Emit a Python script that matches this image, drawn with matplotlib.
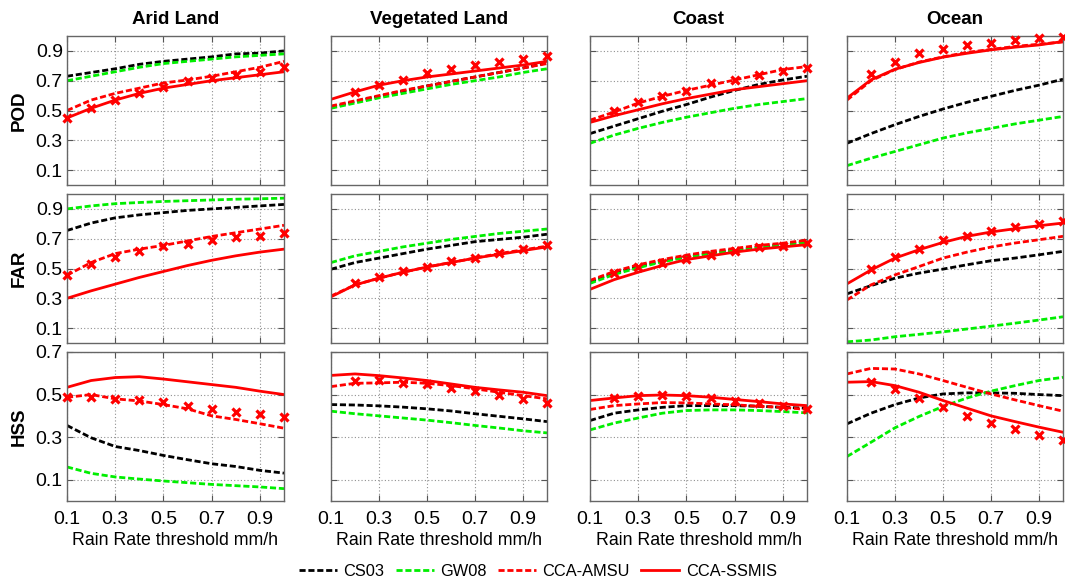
import numpy as np
import matplotlib
matplotlib.use("Agg")
import matplotlib.pyplot as plt

plt.rcParams['font.family'] = ['Liberation Sans', 'DejaVu Sans']

nan = np.nan
thresholds = [0.1, 0.2, 0.3, 0.4, 0.5, 0.6, 0.7, 0.8, 0.9, 1.0]
regions = ["Arid Land", "Vegetated Land", "Coast", "Ocean"]
metrics = ["POD", "FAR", "HSS"]
series_names = ["CS03", "GW08", "CCA-AMSU", "CCA-SSMIS"]

# ---------------- POD ----------------
pod_cs03 = {
    "Arid Land":      [0.73, 0.755, 0.78, 0.81, 0.83, 0.845, 0.86, 0.88, 0.885, 0.90],
    "Vegetated Land": [0.52, 0.56, 0.595, 0.63, 0.665, 0.695, 0.725, 0.755, 0.785, 0.82],
    "Coast":          [0.345, 0.395, 0.445, 0.495, 0.54, 0.59, 0.635, 0.675, 0.705, 0.73],
    "Ocean":          [0.28, 0.345, 0.405, 0.46, 0.51, 0.555, 0.595, 0.635, 0.67, 0.71],
}
pod_gw08 = {
    "Arid Land":      [0.70, 0.73, 0.76, 0.79, 0.815, 0.83, 0.845, 0.86, 0.87, 0.88],
    "Vegetated Land": [0.515, 0.55, 0.585, 0.615, 0.645, 0.675, 0.70, 0.725, 0.755, 0.78],
    "Coast":          [0.28, 0.335, 0.38, 0.42, 0.455, 0.485, 0.515, 0.54, 0.56, 0.58],
    "Ocean":          [0.13, 0.18, 0.225, 0.27, 0.315, 0.35, 0.38, 0.41, 0.435, 0.46],
}
pod_amsu = {
    "Arid Land":      [0.50, 0.57, 0.615, 0.65, 0.685, 0.705, 0.73, 0.76, 0.79, 0.83],
    "Vegetated Land": [0.53, 0.565, 0.60, 0.635, 0.665, 0.695, 0.725, 0.755, 0.785, 0.815],
    "Coast":          [0.435, 0.49, 0.55, 0.595, 0.635, 0.67, 0.705, 0.74, 0.775, 0.795],
    "Ocean":          [0.57, 0.70, 0.775, 0.825, 0.86, 0.89, 0.91, 0.93, 0.945, 0.96],
}
pod_ssmis = {
    "Arid Land":      [0.45, 0.515, 0.57, 0.615, 0.65, 0.675, 0.70, 0.72, 0.74, 0.76],
    "Vegetated Land": [0.575, 0.625, 0.67, 0.70, 0.725, 0.745, 0.765, 0.785, 0.805, 0.83],
    "Coast":          [0.42, 0.465, 0.505, 0.545, 0.58, 0.61, 0.64, 0.66, 0.68, 0.70],
    "Ocean":          [0.583, 0.706, 0.777, 0.822, 0.858, 0.884, 0.907, 0.925, 0.94, 0.963],
}
pod_marks = {
    "Arid Land":      [0.45, 0.515, 0.57, 0.615, 0.66, 0.695, 0.717, 0.74, 0.76, 0.795],
    "Vegetated Land": [nan, 0.627, 0.672, 0.705, 0.75, 0.777, 0.806, 0.824, 0.844, 0.866],
    "Coast":          [nan, 0.50, 0.554, 0.598, 0.634, 0.683, 0.706, 0.739, 0.768, 0.784],
    "Ocean":          [nan, 0.744, 0.828, 0.884, 0.913, 0.94, 0.956, 0.974, 0.985, 0.992],
}

# ---------------- FAR ----------------
far_cs03 = {
    "Arid Land":      [0.755, 0.805, 0.84, 0.86, 0.875, 0.89, 0.90, 0.91, 0.92, 0.93],
    "Vegetated Land": [0.495, 0.54, 0.57, 0.60, 0.63, 0.655, 0.68, 0.695, 0.71, 0.73],
    "Coast":          [0.41, 0.47, 0.515, 0.55, 0.58, 0.605, 0.625, 0.645, 0.66, 0.68],
    "Ocean":          [0.33, 0.385, 0.435, 0.469, 0.496, 0.525, 0.552, 0.57, 0.592, 0.615],
}
far_gw08 = {
    "Arid Land":      [0.90, 0.92, 0.935, 0.943, 0.95, 0.955, 0.96, 0.965, 0.968, 0.972],
    "Vegetated Land": [0.54, 0.585, 0.615, 0.645, 0.67, 0.695, 0.715, 0.735, 0.75, 0.765],
    "Coast":          [0.40, 0.46, 0.505, 0.545, 0.575, 0.60, 0.62, 0.64, 0.66, 0.675],
    "Ocean":          [0.008, 0.02, 0.042, 0.058, 0.075, 0.094, 0.113, 0.133, 0.154, 0.176],
}
far_amsu = {
    "Arid Land":      [0.455, 0.54, 0.60, 0.63, 0.655, 0.685, 0.715, 0.74, 0.765, 0.79],
    "Vegetated Land": [0.315, 0.39, 0.435, 0.475, 0.51, 0.54, 0.57, 0.60, 0.625, 0.65],
    "Coast":          [0.42, 0.48, 0.525, 0.56, 0.59, 0.615, 0.635, 0.655, 0.67, 0.69],
    "Ocean":          [0.289, 0.39, 0.457, 0.513, 0.57, 0.61, 0.644, 0.671, 0.693, 0.716],
}
far_ssmis = {
    "Arid Land":      [0.30, 0.35, 0.395, 0.44, 0.48, 0.52, 0.555, 0.585, 0.61, 0.63],
    "Vegetated Land": [0.31, 0.39, 0.435, 0.475, 0.51, 0.54, 0.57, 0.595, 0.62, 0.645],
    "Coast":          [0.36, 0.425, 0.475, 0.52, 0.56, 0.585, 0.61, 0.63, 0.645, 0.66],
    "Ocean":          [0.397, 0.49, 0.57, 0.626, 0.675, 0.716, 0.745, 0.767, 0.787, 0.805],
}
far_marks = {
    "Arid Land":      [0.457, 0.53, 0.58, 0.615, 0.65, 0.665, 0.69, 0.71, 0.72, 0.74],
    "Vegetated Land": [nan, 0.401, 0.442, 0.48, 0.513, 0.547, 0.57, 0.603, 0.63, 0.66],
    "Coast":          [nan, 0.469, 0.509, 0.536, 0.563, 0.592, 0.62, 0.644, 0.653, 0.671],
    "Ocean":          [nan, 0.50, 0.576, 0.63, 0.689, 0.72, 0.754, 0.776, 0.80, 0.817],
}

# ---------------- HSS ----------------
hss_cs03 = {
    "Arid Land":      [0.355, 0.297, 0.256, 0.237, 0.214, 0.194, 0.175, 0.162, 0.144, 0.131],
    "Vegetated Land": [0.453, 0.451, 0.447, 0.441, 0.433, 0.423, 0.41, 0.398, 0.386, 0.373],
    "Coast":          [0.378, 0.4125, 0.428, 0.44, 0.448, 0.448, 0.448, 0.445, 0.44, 0.436],
    "Ocean":          [0.3625, 0.4125, 0.453, 0.484, 0.503, 0.508, 0.508, 0.506, 0.50, 0.495],
}
hss_gw08 = {
    "Arid Land":      [0.16, 0.13, 0.113, 0.103, 0.094, 0.086, 0.078, 0.072, 0.066, 0.058],
    "Vegetated Land": [0.422, 0.41, 0.40, 0.39, 0.38, 0.368, 0.355, 0.343, 0.33, 0.32],
    "Coast":          [0.334, 0.366, 0.39, 0.4125, 0.425, 0.428, 0.428, 0.425, 0.42, 0.414],
    "Ocean":          [0.209, 0.276, 0.344, 0.397, 0.444, 0.484, 0.516, 0.542, 0.566, 0.581],
}
hss_amsu = {
    "Arid Land":      [0.487, 0.50, 0.48, 0.47, 0.453, 0.433, 0.40, 0.383, 0.363, 0.342],
    "Vegetated Land": [0.5375, 0.553, 0.555, 0.558, 0.553, 0.542, 0.527, 0.511, 0.495, 0.48],
    "Coast":          [0.43, 0.448, 0.456, 0.4625, 0.461, 0.456, 0.452, 0.445, 0.44, 0.43],
    "Ocean":          [0.597, 0.623, 0.62, 0.597, 0.566, 0.534, 0.503, 0.475, 0.448, 0.422],
}
hss_ssmis = {
    "Arid Land":      [0.534, 0.566, 0.58, 0.584, 0.573, 0.56, 0.547, 0.534, 0.516, 0.50],
    "Vegetated Land": [0.59, 0.597, 0.589, 0.578, 0.566, 0.55, 0.534, 0.522, 0.511, 0.495],
    "Coast":          [0.472, 0.484, 0.495, 0.498, 0.495, 0.4875, 0.477, 0.467, 0.456, 0.448],
    "Ocean":          [0.558, 0.561, 0.542, 0.511, 0.472, 0.436, 0.40, 0.373, 0.347, 0.323],
}
hss_marks = {
    "Arid Land":      [0.487, 0.487, 0.48, 0.475, 0.464, 0.448, 0.43, 0.417, 0.41, 0.394],
    "Vegetated Land": [nan, 0.5625, 0.569, 0.556, 0.55, 0.531, 0.519, 0.50, 0.48, 0.46],
    "Coast":          [nan, 0.484, 0.492, 0.50, 0.492, 0.484, 0.472, 0.46, 0.445, 0.433],
    "Ocean":          [nan, 0.561, 0.527, 0.483, 0.44, 0.40, 0.367, 0.336, 0.311, 0.2875],
}

data = {
    "POD": (pod_cs03, pod_gw08, pod_amsu, pod_ssmis, pod_marks),
    "FAR": (far_cs03, far_gw08, far_amsu, far_ssmis, far_marks),
    "HSS": (hss_cs03, hss_gw08, hss_amsu, hss_ssmis, hss_marks),
}
ylims = {"POD": (0, 1), "FAR": (0, 1), "HSS": (0, 0.7)}
yticks = {"POD": [0.1, 0.3, 0.5, 0.7, 0.9], "FAR": [0.1, 0.3, 0.5, 0.7, 0.9],
          "HSS": [0.1, 0.3, 0.5, 0.7]}
xticks = [0.1, 0.3, 0.5, 0.7, 0.9]

W, H = 1065, 587
fig = plt.figure(figsize=(W / 100, H / 100), dpi=100)

col_px = [(67, 284), (331, 547), (590, 807), (847, 1063)]
row_px = [(36, 185), (194, 343), (352, 501)]

dash = (0, (2.2, 1.0))
lw = 2.0
styles = [dict(color="black", ls=dash, lw=lw),
          dict(color="#00ee00", ls=dash, lw=lw),
          dict(color="#ff0000", ls=dash, lw=lw),
          dict(color="#ff0000", ls="-", lw=lw)]

handles = None
for r, met in enumerate(metrics):
    for c, reg in enumerate(regions):
        x0, x1 = col_px[c]
        y0, y1 = row_px[r]
        ax = fig.add_axes([x0 / W, 1 - y1 / H, (x1 - x0) / W, (y1 - y0) / H])
        hs = []
        for k in range(4):
            h, = ax.plot(thresholds, data[met][k][reg], label=series_names[k], **styles[k])
            hs.append(h)
        ax.plot(thresholds, data[met][4][reg], ls="none", marker="x", ms=6, mew=2.3,
                color="#ff0000", clip_on=False, zorder=5)
        handles = hs
        ax.set_xlim(0.1, 1.0)
        ax.set_ylim(*ylims[met])
        ax.set_xticks(xticks)
        ax.set_yticks(yticks[met])
        ax.grid(True, ls=(0, (1, 2)), color="#909090", lw=0.8)
        ax.tick_params(direction="in", length=4, width=0.8, color="#555555",
                       top=True, right=True, labelsize=14)
        ax.tick_params(axis="x", pad=7)
        ax.tick_params(axis="y", pad=3)
        for s in ax.spines.values():
            s.set_color("#666666")
            s.set_linewidth(1.0)
        if c == 0:
            ax.set_ylabel(met, fontsize=13.5, fontweight="bold", labelpad=6)
        else:
            ax.set_yticklabels([])
        if r == 2:
            ax.set_xlabel("Rain Rate threshold mm/h", fontsize=12.8, labelpad=3)
        else:
            ax.set_xticklabels([])
        if r == 0:
            ax.set_title(reg, fontsize=13.5, fontweight="bold", pad=9)

fig.legend(handles, series_names, loc="center", bbox_to_anchor=(538 / W, 1 - 571 / H),
           ncol=4, frameon=False, fontsize=11.8, handlelength=2.3, columnspacing=0.7,
           handletextpad=0.4)

fig.savefig("out.png", dpi=100)
